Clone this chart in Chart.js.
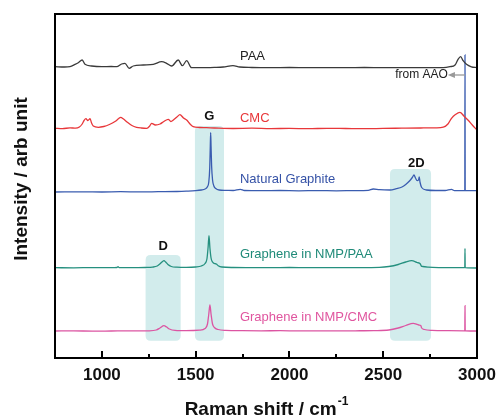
<!DOCTYPE html>
<html><head><meta charset="utf-8">
<script src="https://cdn.jsdelivr.net/npm/chart.js@4/dist/chart.umd.min.js"></script>
<style>html,body{margin:0;padding:0;background:#fff}</style>
</head><body>
<canvas id="c" width="498" height="417"></canvas>
<script>
// ---- data (Raman shift in cm^-1, intensity in arbitrary stacked units) ----
const paaX = [750,800,830,857,874,895,910,945,1000,1050,1079,1105,1123,1145,1167,1221,1274,1319,1345,1372,1407,1429,1452,1478,1523,1600,1647,1699,1735,1800,1900,2000,2100,2200,2300,2400,2500,2600,2700,2820,2856,2883,2899,2913,2926,2944,2970,3000];
const paaY = [291.3,291.0,291.3,293.6,295.3,298.0,293.7,292.0,291.3,291.5,291.3,294.0,294.7,289.7,292.0,293.0,293.7,296.3,294.7,292.0,298.0,292.3,297.3,290.3,290.3,290.6,291.0,292.3,291.0,290.5,290.3,290.5,290.3,290.4,290.3,290.5,290.3,290.4,290.3,290.4,291.3,293.0,298.7,301.3,297.3,293.7,291.2,290.3];

const cmcX = [750,790,830,860,880,895,905,915,925,937,945,954,981,1010,1040,1070,1090,1100,1115,1132,1160,1185,1210,1239,1255,1265,1285,1310,1330,1354,1368,1381,1400,1416,1435,1452,1470,1487,1520,1558,1600,1700,1800,1900,2000,2100,2200,2300,2400,2500,2600,2700,2780,2820,2845,2864,2885,2909,2930,2953,2975,3000];
const cmcY = [229.7,229.3,230.2,229.8,231.0,234.0,237.5,239.3,237.5,239.3,235.0,232.0,230.7,231.5,233.5,236.5,239.5,240.7,239.0,236.3,232.5,230.7,230.0,229.7,232.0,234.7,233.0,234.0,236.5,238.7,236.5,238.0,241.0,243.3,240.0,238.0,234.0,231.3,230.5,230.3,230.0,229.5,229.8,229.4,229.6,229.3,229.7,229.5,229.3,229.6,229.8,230.0,230.2,230.8,234.0,239.7,243.5,245.7,242.0,237.7,233.0,228.0];

const ngX = [750,900,1000,1100,1200,1300,1400,1450,1500,1530,1550,1562,1570,1575,1578,1580,1582,1585,1590,1597,1607,1625,1660,1700,1738,1760,1850,1950,2050,2150,2250,2350,2420,2447,2480,2536,2570,2600,2620,2640,2655,2664,2672,2681,2688,2692,2696,2705,2731,2780,2830,2864,2880,2935,2936,2937,3000];
const ngY = [166.0,166.2,166.0,166.3,166.1,166.3,166.5,166.8,167.3,168.0,169.0,171.0,176.0,190.0,212.0,225.3,212.0,192.0,178.0,172.0,169.5,168.0,167.7,167.5,168.7,167.5,167.3,167.5,167.2,167.4,167.2,167.4,167.6,169.0,168.3,168.0,169.3,171.0,173.5,177.0,180.5,183.0,180.0,177.3,178.0,181.0,176.0,170.5,168.0,167.5,167.5,168.7,167.4,167.4,303.0,167.4,167.3];

const nmpPaaX = [750,850,950,1050,1080,1086,1092,1150,1230,1270,1295,1312,1325,1331,1340,1352,1370,1400,1450,1500,1530,1550,1560,1566,1571,1576,1582,1590,1600,1610,1620,1640,1700,1800,1900,2000,2100,2200,2300,2400,2480,2530,2580,2620,2651,2680,2698,2703,2710,2740,2800,2900,2935,2936,2937,3000];
const nmpPaaY = [90.3,90.2,90.4,90.3,90.5,91.3,90.4,90.3,90.5,90.9,92.0,94.5,96.8,97.3,96.0,93.5,91.5,90.8,90.6,91.0,92.0,94.5,99.0,110.0,122.3,110.0,100.0,96.0,94.5,94.0,92.3,91.0,90.5,90.4,90.3,90.5,90.3,90.4,90.3,90.4,90.6,91.5,93.5,96.0,97.3,95.5,94.0,92.0,91.5,90.8,90.4,90.3,90.3,109.7,90.3,90.0];

const nmpCmcX = [750,850,950,1050,1150,1250,1290,1310,1331,1345,1360,1390,1450,1520,1550,1563,1570,1576,1582,1590,1600,1620,1660,1750,1850,1950,2050,2150,2250,2350,2450,2530,2580,2620,2660,2690,2700,2705,2720,2760,2850,2935,2936,2937,3000];
const nmpCmcY = [27.0,27.1,26.9,27.0,27.1,27.2,28.0,30.0,32.3,31.0,29.0,27.6,27.3,27.8,29.5,34.0,44.0,53.0,44.0,34.0,30.5,28.5,27.6,27.3,27.2,27.3,27.1,27.2,27.1,27.2,27.4,28.0,30.0,32.5,34.7,33.0,32.5,30.0,28.5,27.6,27.3,27.2,52.3,27.2,27.0];

const seriesNames = ['PAA','CMC','Natural Graphite','Graphene in NMP/PAA','Graphene in NMP/CMC'];

// shaded band regions (D, G, 2D): x range and intensity range
const bandNames = ['D','G','2D'];
const bandStart = [1233,1496,2536];
const bandEnd   = [1420,1651,2755];
const bandLow   = [17.3,17.3,17.3];
const bandHigh  = [103,232,189];

const xTickValues = [1000,1500,2000,2500,3000];
</script>
<script>
const colors = ['#3a3a3a','#e8373a','#3a5cb0','#25907f','#dc55a2'];
const textColors = ['#222222','#e8373a','#3552a6','#1f8a78','#e0559f'];
const xs = [paaX,cmcX,ngX,nmpPaaX,nmpCmcX];
const ys = [paaY,cmcY,ngY,nmpPaaY,nmpCmcY];

const datasets = seriesNames.map((n,i)=>({
  label:n,
  data: xs[i].map((x,j)=>({x:x,y:ys[i][j]})),
  borderColor: colors[i],
  borderWidth: 1.3,
  pointRadius: 0,
  cubicInterpolationMode: 'monotone',
  fill:false
}));

// annotation placement (data coordinates)
const seriesLabels = [
  {t:'PAA', x:1736, y:302, c:0},
  {t:'CMC', x:1736, y:240, c:1},
  {t:'Natural Graphite', x:1736, y:179, c:2},
  {t:'Graphene in NMP/PAA', x:1736, y:104, c:3},
  {t:'Graphene in NMP/CMC', x:1736, y:40.3, c:4}
];
const bandLabelPos = [{x:1327,y:111.3},{x:1573,y:241.3},{x:2677,y:194.7}];

const FONT = '"Liberation Sans", Arial, sans-serif';

function roundRect(ctx,x,y,w,h,r){
  ctx.beginPath();
  ctx.moveTo(x+r,y);
  ctx.lineTo(x+w-r,y); ctx.quadraticCurveTo(x+w,y,x+w,y+r);
  ctx.lineTo(x+w,y+h-r); ctx.quadraticCurveTo(x+w,y+h,x+w-r,y+h);
  ctx.lineTo(x+r,y+h); ctx.quadraticCurveTo(x,y+h,x,y+h-r);
  ctx.lineTo(x,y+r); ctx.quadraticCurveTo(x,y,x+r,y);
  ctx.closePath();
}

const decor = {
  id:'decor',
  beforeDatasetsDraw(chart){
    const {ctx, scales:{x,y}} = chart;
    ctx.save();
    ctx.fillStyle = 'rgb(210,236,236)';
    for(let i=0;i<bandStart.length;i++){
      const x0=x.getPixelForValue(bandStart[i]), x1=x.getPixelForValue(bandEnd[i]);
      const y0=y.getPixelForValue(bandHigh[i]), y1=y.getPixelForValue(bandLow[i]);
      roundRect(ctx,x0,y0,x1-x0,y1-y0,5);
      ctx.fill();
    }
    ctx.restore();
  },
  afterDatasetsDraw(chart){
    const {ctx, chartArea:a, scales:{x,y}} = chart;
    ctx.save();
    // frame
    ctx.strokeStyle='#000'; ctx.lineWidth=2;
    ctx.strokeRect(a.left,a.top,a.right-a.left,a.bottom-a.top);
    // inward ticks
    x.ticks.forEach(t=>{
      const v=t.value; if(v<=750||v>=3000) return;
      const px=Math.round(x.getPixelForValue(v));
      const len = (v%500===0)?7:4;
      ctx.beginPath(); ctx.moveTo(px,a.bottom); ctx.lineTo(px,a.bottom-len); ctx.stroke();
    });
    // series labels
    ctx.textBaseline='middle'; ctx.textAlign='left';
    ctx.font = '13px '+FONT;
    seriesLabels.forEach(l=>{
      ctx.fillStyle=textColors[l.c];
      ctx.fillText(l.t, x.getPixelForValue(l.x), y.getPixelForValue(l.y));
    });
    // band labels
    ctx.font='bold 13px '+FONT; ctx.fillStyle='#111'; ctx.textAlign='center';
    bandNames.forEach((b,i)=>{
      ctx.fillText(b, x.getPixelForValue(bandLabelPos[i].x), y.getPixelForValue(bandLabelPos[i].y));
    });
    // from AAO
    ctx.font='12px '+FONT; ctx.fillStyle='#222'; ctx.textAlign='right';
    const ay=y.getPixelForValue(283);
    const ax0=x.getPixelForValue(2845), ax1=x.getPixelForValue(2936);
    ctx.fillText('from AAO', ax0, ay);
    ctx.strokeStyle='#999'; ctx.fillStyle='#999'; ctx.lineWidth=1.3;
    ctx.beginPath(); ctx.moveTo(ax0+5,ay); ctx.lineTo(ax1,ay); ctx.stroke();
    ctx.beginPath(); ctx.moveTo(ax0,ay); ctx.lineTo(ax0+7,ay-3); ctx.lineTo(ax0+7,ay+3); ctx.closePath(); ctx.fill();
    // axis titles
    ctx.fillStyle='#111'; ctx.textBaseline='alphabetic';
    const mainFont='bold 19px '+FONT, supFont='bold 12px '+FONT;
    ctx.font=mainFont; const mainTxt='Raman shift / cm'; const w1=ctx.measureText(mainTxt).width;
    ctx.font=supFont; const w2=ctx.measureText('-1').width;
    const cx=(a.left+a.right)/2, start=cx-(w1+w2)/2;
    ctx.textAlign='left';
    ctx.font=mainFont; ctx.fillText(mainTxt,start,415);
    ctx.font=supFont; ctx.fillText('-1',start+w1+1,405);
    ctx.save();
    ctx.translate(27,179); ctx.rotate(-Math.PI/2);
    ctx.font=mainFont; ctx.textAlign='center';
    ctx.fillText('Intensity / arb unit',0,0);
    ctx.restore();
    ctx.restore();
  }
};

new Chart(document.getElementById('c'),{
  type:'line',
  data:{datasets},
  options:{
    responsive:false, animation:false, devicePixelRatio:1,
    layout:{padding:{left:55,right:21,top:14,bottom:0}},
    plugins:{legend:{display:false},tooltip:{enabled:false}},
    scales:{
      x:{type:'linear',min:750,max:3000,
        afterBuildTicks:s=>{ s.ticks=[1000,1250,1500,1750,2000,2250,2500,2750,3000].map(v=>({value:v})); },
        ticks:{autoSkip:false,maxRotation:0,color:'#111',padding:7,
          callback:v=>xTickValues.includes(v)?String(v):'',
          font:{family:FONT,size:17,weight:'bold'}},
        grid:{display:false,drawTicks:false},
        border:{display:false},
        afterFit:s=>{s.height=59; s.paddingLeft=0; s.paddingRight=0;}
      },
      y:{display:false,min:0,max:344}
    }
  },
  plugins:[decor]
});
</script>
</body></html>
